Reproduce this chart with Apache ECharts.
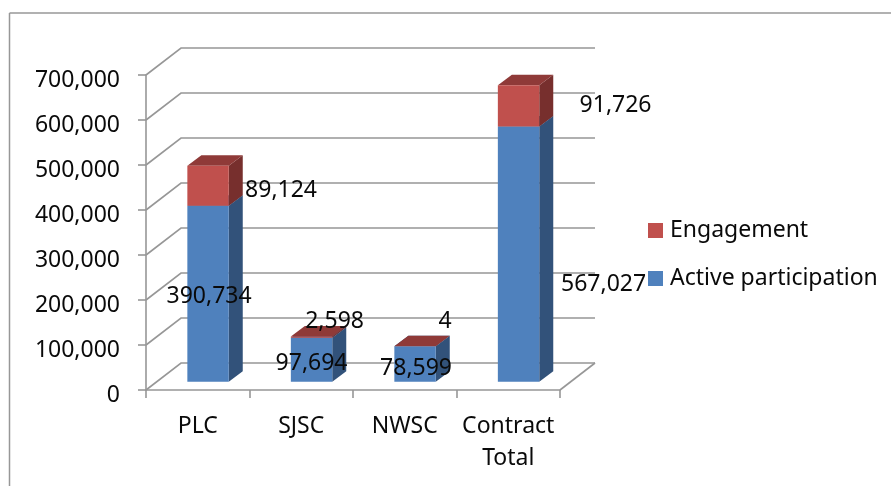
<!DOCTYPE html>
<html>
<head>
<meta charset="utf-8">
<title>Participation by contract</title>
<style>
  html, body { margin: 0; padding: 0; background: #fff; }
  #chart { width: 891px; height: 486px; }
</style>
<script src="https://cdn.jsdelivr.net/npm/echarts@6/dist/echarts.min.js"></script>
</head>
<body>
<div id="chart"></div>
<script>
// Chart data
const categories = ['PLC', 'SJSC', 'NWSC', 'Contract\nTotal'];
const activeParticipation = [390734, 97694, 78599, 567027];
const engagement = [89124, 2598, 4, 91726];
const valueTicks = [0, 100000, 200000, 300000, 400000, 500000, 600000, 700000];

// Hand-placed data label nudges, in pixels from the centre of each front face
const activeLabelShift = [[1, 3], [0, 4], [1, 4], [85, 30]];
const engagementLabelShift = [[73, 5], [23, -16], [30, -25], [97, 0]];

// Oblique projection used for the pseudo 3D look
const WALL = { dx: 35, dy: -27 };
const BAR_OFFSET = { dx: 10.3, dy: -8.3 };
const BAR_DEPTH = { dx: 14, dy: -10.5 };
const BAR_RATIO = 0.4;

const FONT = '"Noto Sans", sans-serif';
const FONT_SIZE = 23;
const LINE = '#979797';
const INK = '#0a0a0a';

const fmt = v => v.toLocaleString('en-US');
const pts = (...p) => p;

// Wall and floor lines: each value gets an L shape running up the side wall and along the back
function renderWall(params, api) {
  const c = params.coordSys;
  const y = api.coord([0, api.value(1)])[1];
  const left = c.x, right = c.x + c.width;
  const children = [{
    type: 'polyline',
    shape: { points: pts([left, y], [left + WALL.dx, y + WALL.dy], [right + WALL.dx, y + WALL.dy]) },
    style: { fill: null, stroke: LINE, lineWidth: 1.6 }
  }];
  if (api.value(1) === 0) {
    children.push({
      type: 'line',
      shape: { x1: right, y1: y, x2: right + WALL.dx, y2: y + WALL.dy },
      style: { stroke: LINE, lineWidth: 1.6 }
    });
  }
  return { type: 'group', children };
}

// One stacked prism segment: front face, side face, top face and its label
function segmentRenderer(values, bases, shifts, colors) {
  return function (params, api) {
    const i = api.value(0);
    const v = values[i], base = bases[i];
    const w = api.size([1, 0])[0] * BAR_RATIO;
    const p0 = api.coord([i, base]);
    const p1 = api.coord([i, base + v]);
    const xl = p0[0] - w / 2 + BAR_OFFSET.dx;
    const xr = xl + w;
    const yb = p0[1] + BAR_OFFSET.dy;
    const yt = p1[1] + BAR_OFFSET.dy;
    const d = BAR_DEPTH;
    return {
      type: 'group',
      children: [
        { type: 'polygon',
          shape: { points: pts([xr, yb], [xr + d.dx, yb + d.dy], [xr + d.dx, yt + d.dy], [xr, yt]) },
          style: { fill: colors.side } },
        { type: 'polygon',
          shape: { points: pts([xl, yt], [xr, yt], [xr + d.dx, yt + d.dy], [xl + d.dx, yt + d.dy]) },
          style: { fill: colors.top } },
        { type: 'rect',
          shape: { x: xl, y: yt, width: w, height: yb - yt },
          style: { fill: colors.front } },
        { type: 'text', z2: 100,
          x: (xl + xr) / 2 + shifts[i][0],
          y: (yb + yt) / 2 + shifts[i][1],
          style: { text: fmt(v), fill: INK, fontFamily: FONT, fontSize: FONT_SIZE,
                   align: 'center', verticalAlign: 'middle' } }
      ]
    };
  };
}

const BLUE = { front: '#4F81BD', side: '#32527A', top: '#3E6797' };
const RED = { front: '#C0504D', side: '#772F2D', top: '#8F3A38' };
const zeros = categories.map(() => 0);

const chart = echarts.init(document.getElementById('chart'));
chart.setOption({
  animation: false,
  backgroundColor: '#fff',
  graphic: [
    { type: 'line', shape: { x1: 9.5, y1: 13, x2: 9.5, y2: 486 }, style: { stroke: LINE, lineWidth: 1.5 } },
    { type: 'line', shape: { x1: 9.5, y1: 13, x2: 891, y2: 13 }, style: { stroke: LINE, lineWidth: 1.5 } }
  ],
  grid: { left: 146, right: 331, top: 75, bottom: 96 },
  legend: {
    orient: 'vertical', left: 648, top: 219, padding: 0, itemWidth: 15, itemHeight: 15, itemGap: 25,
    icon: 'rect', data: ['Engagement', 'Active participation'],
    textStyle: { color: INK, fontFamily: FONT, fontSize: FONT_SIZE, padding: [0, 0, 0, 2] },
    selectedMode: false
  },
  xAxis: {
    type: 'category', data: categories,
    axisLine: { lineStyle: { color: LINE, width: 1.6 } },
    axisTick: { show: true, length: 8, alignWithLabel: false, lineStyle: { color: LINE, width: 1.6 } },
    axisLabel: { color: INK, fontFamily: FONT, fontSize: FONT_SIZE, lineHeight: 32, margin: 20, interval: 0 },
    splitLine: { show: false }
  },
  yAxis: {
    type: 'value', min: 0, max: 700000, interval: 100000,
    axisLine: { show: true, lineStyle: { color: LINE, width: 1.6 } },
    axisTick: { show: true, length: 8, lineStyle: { color: LINE, width: 1.6 } },
    axisLabel: { color: INK, fontFamily: FONT, fontSize: FONT_SIZE, margin: 26, formatter: fmt,
                 verticalAlign: 'top', lineHeight: 10 },
    splitLine: { show: false }
  },
  series: [
    { name: 'walls', type: 'custom', z: 1, silent: true, renderItem: renderWall,
      data: valueTicks.map(v => [0, v]), encode: { x: 0, y: 1 } },
    { name: 'Active participation', type: 'custom', z: 2,
      itemStyle: { color: BLUE.front },
      renderItem: segmentRenderer(activeParticipation, zeros, activeLabelShift, BLUE),
      data: activeParticipation.map((v, i) => [i, v]), encode: { x: 0, y: 1 } },
    { name: 'Engagement', type: 'custom', z: 3,
      itemStyle: { color: RED.front },
      renderItem: segmentRenderer(engagement, activeParticipation, engagementLabelShift, RED),
      data: engagement.map((v, i) => [i, activeParticipation[i] + v]), encode: { x: 0, y: 1 } }
  ]
});
</script>
</body>
</html>
